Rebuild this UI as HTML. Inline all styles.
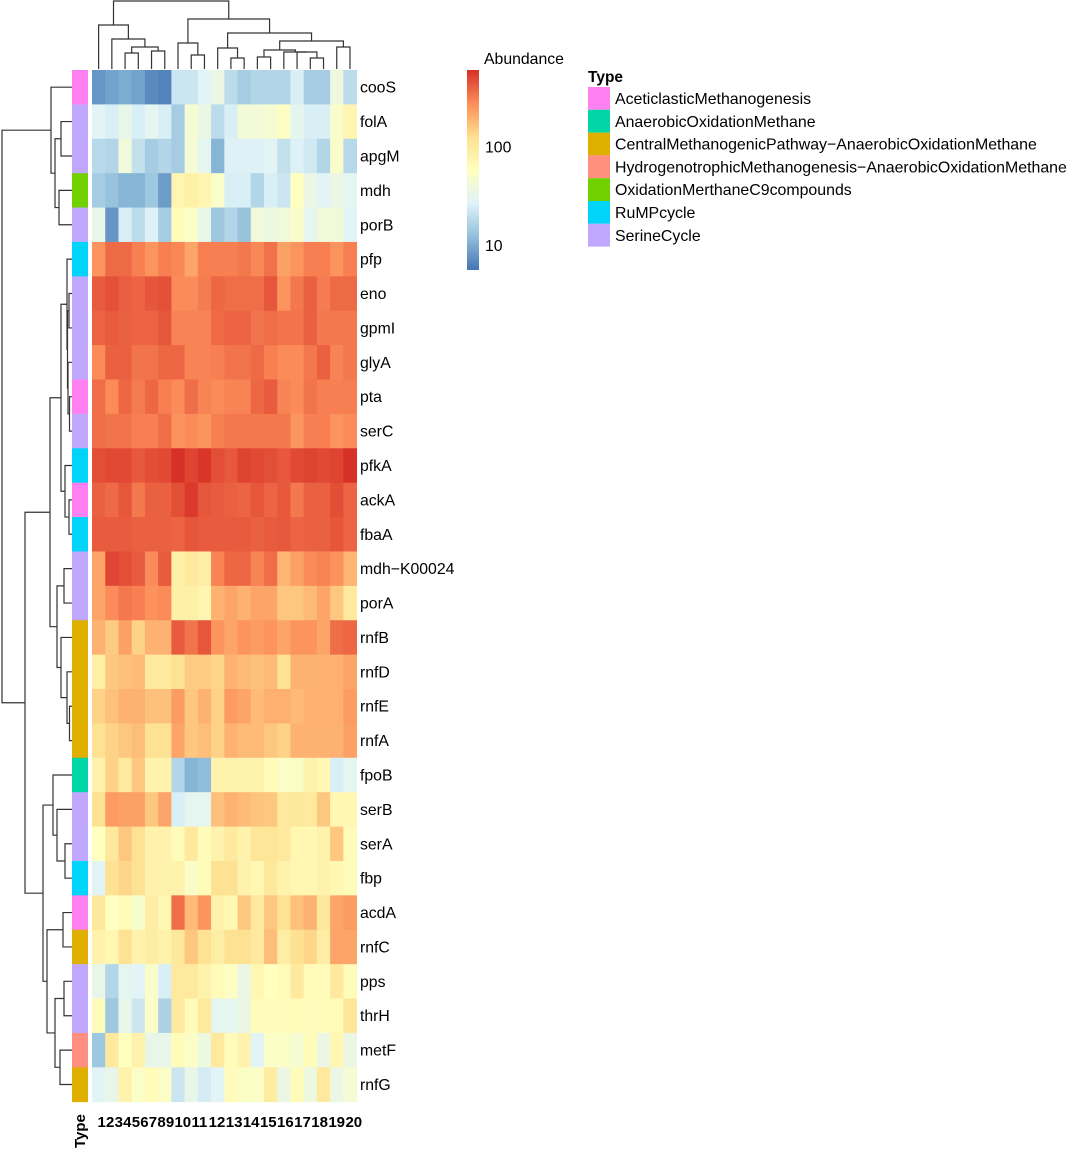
<!DOCTYPE html>
<html><head><meta charset="utf-8">
<style>
html,body{margin:0;padding:0;background:#fff;}
svg{display:block;font-family:"Liberation Sans",Arial,sans-serif;}
</style></head>
<body>
<svg id="chart" xmlns="http://www.w3.org/2000/svg" width="1080" height="1159" viewBox="0 0 1080 1159">
<defs>
<linearGradient id="gr" x1="0" y1="1" x2="0" y2="0">
<stop offset="0" stop-color="#4575B4"/><stop offset="0.1667" stop-color="#91BFDB"/><stop offset="0.3333" stop-color="#E0F3F8"/><stop offset="0.5" stop-color="#FFFFBF"/><stop offset="0.6667" stop-color="#FEE090"/><stop offset="0.8333" stop-color="#FC8D59"/><stop offset="1" stop-color="#D73027"/>
</linearGradient>
</defs>
<g id="cells"></g>
<g id="annot"></g>
<g id="labels"></g>
<g id="dendro" stroke="#333" stroke-width="1.2" fill="none"></g>
<g id="alegend">
<rect x="467" y="70" width="12" height="200" fill="url(#gr)"/>
<text x="484" y="64" font-size="15.8">Abundance</text>
</g>
<g id="tlegend">
<text x="588" y="82" font-size="15.5" font-weight="bold">Type</text>
</g>
<text font-size="15" font-weight="bold" transform="translate(85,1148) rotate(-90)">Type</text>
</svg>
<script>
var genes = ["cooS","folA","apgM","mdh","porB","pfp","eno","gpmI","glyA","pta","serC","pfkA","ackA","fbaA","mdh\u2212K00024","porA","rnfB","rnfD","rnfE","rnfA","fpoB","serB","serA","fbp","acdA","rnfC","pps","thrH","metF","rnfG"];
var samples = ["1","2","3","4","5","6","7","8","9","10","11","12","13","14","15","16","17","18","19","20"];
var geneTypes = [0,6,6,4,6,5,6,6,6,0,6,5,0,5,6,6,2,2,2,2,1,6,6,5,0,2,6,6,3,2];
var typeNames = ["AceticlasticMethanogenesis","AnaerobicOxidationMethane","CentralMethanogenicPathway\u2212AnaerobicOxidationMethane","HydrogenotrophicMethanogenesis\u2212AnaerobicOxidationMethane","OxidationMerthaneC9compounds","RuMPcycle","SerineCycle"];
var typeColors = ["#FF80F0","#00D6A8","#E0B000","#FF9080","#70D000","#00D4F8","#C0A8FF"];
var legendTicks = [10,100];
var abundance = [
[8,9,10,9,7,6.5,22,22,28,35,19,15,17,17,17,25,15,15,38,19],
[28,25,33,25,30,25,15,45,35,19,25,42,42,45,55,30,25,25,50,75],
[18,17,40,20,15,17,15,45,30,11,26,26,26,28,20,26,23,17,50,18],
[15,13,11,11,14,8.5,75,85,75,50,25,25,17,25,22,58,35,28,35,30],
[33,8,25,19,26,15,62,52,33,14,17,13,40,37,40,50,30,40,40,28],
[260,370,370,310,260,310,290,220,310,310,310,330,290,350,230,260,310,310,260,310],
[420,460,410,390,440,460,280,280,320,380,360,360,360,440,260,330,400,320,370,370],
[390,420,400,390,390,440,300,300,300,370,390,390,340,360,340,340,400,330,330,330],
[280,400,400,340,340,380,380,300,300,310,340,340,370,310,280,280,330,400,300,330],
[360,280,380,320,380,310,280,360,300,280,300,300,380,420,300,280,340,310,310,310],
[360,340,340,310,310,360,265,280,260,310,330,330,330,330,330,260,310,310,260,280],
[470,490,490,430,470,490,600,510,580,470,430,520,490,470,430,490,510,490,510,600],
[400,370,440,330,400,400,470,560,440,420,400,390,440,390,430,330,400,400,470,390],
[420,420,420,400,400,400,390,440,420,420,420,420,400,420,430,390,400,400,440,390],
[220,500,470,420,280,420,85,100,90,300,380,380,300,360,190,230,280,300,265,190],
[220,280,330,310,265,280,85,85,75,195,220,195,220,220,160,160,180,220,160,100],
[195,155,230,145,195,195,420,340,440,260,220,260,240,260,220,260,260,220,360,380],
[85,160,170,180,100,100,120,155,155,140,195,180,170,180,120,195,195,195,200,220],
[145,170,195,195,170,170,240,160,195,145,240,220,180,200,200,180,200,200,200,240],
[120,145,160,175,120,120,220,160,175,145,195,180,180,160,145,195,195,195,195,230],
[80,145,100,160,80,80,17,11,12,80,80,80,80,65,52,52,80,72,25,30],
[120,240,230,230,160,220,25,30,30,170,195,180,165,160,100,105,100,160,72,72],
[58,105,160,120,80,80,65,100,65,80,100,80,110,110,100,72,72,80,160,65],
[28,120,140,120,80,80,80,52,65,120,120,80,72,105,80,72,72,80,72,65],
[105,58,65,48,90,72,360,180,260,80,72,160,100,160,120,170,195,105,220,240],
[80,72,120,80,90,80,105,160,120,90,120,120,100,175,90,120,140,90,220,220],
[33,17,30,28,50,25,100,100,80,65,55,35,72,58,65,100,65,65,100,65],
[62,14,33,22,52,16,100,65,100,30,30,35,62,62,62,65,62,62,65,110],
[14,100,58,80,33,33,65,52,37,100,62,80,28,52,52,45,65,35,72,35],
[28,33,80,52,65,52,22,33,24,28,62,52,52,95,35,65,37,100,35,45]
];
var rowTree = [[0,[[1,2,61],[3,4,59],55],51],
 [[[[5,[[6,7,69],[8,[9,10,69.5],68],67.5],67],[11,[12,13,69],65],61],
   [[14,15,64],[16,[17,[18,19,69.5],67],61],57],50],
  [[20,[21,[22,23,65],57],53],[[24,25,63],[[26,27,64],[28,29,60],55],47],43],25],2];
var colTree = [[0,[1,[[2,3,53],[4,5,51],47],39],25],
 [[6,[7,8,55],43],[[9,[10,11,58],48],[[[12,13,57],[14,[15,[16,17,58],52],52],50],[18,19,47],41],33],19],1];

var NS = "http://www.w3.org/2000/svg";
function mk(tag, attrs, parent) {
  var e = document.createElementNS(NS, tag);
  for (var k in attrs) { e.setAttribute(k, String(attrs[k])); }
  parent.appendChild(e);
  return e;
}
var X0 = 92, X1 = 356.6, Y0 = 70, Y1 = 1101.7;
var cw = (X1 - X0) / samples.length, rh = (Y1 - Y0) / genes.length;
function xCol(i) { return X0 + cw * i; }
function yRow(i) { return Y0 + rh * i; }
var pal = [[69,117,180],[145,191,219],[224,243,248],[255,255,191],[254,224,144],[252,141,89],[215,48,39]];
var LMIN = 0.75, LMAX = 2.78;
function tOf(v) { var t = (Math.log(v) / Math.LN10 - LMIN) / (LMAX - LMIN); return Math.max(0, Math.min(1, t)); }
function color(v) {
  var t = tOf(v) * 6; var i = Math.min(5, Math.floor(t)); var f = t - i;
  var a = pal[i], b = pal[i + 1];
  return "rgb(" + Math.round(a[0] + (b[0] - a[0]) * f) + "," + Math.round(a[1] + (b[1] - a[1]) * f) + "," + Math.round(a[2] + (b[2] - a[2]) * f) + ")";
}

function drawCells() {
  var g = document.getElementById("cells");
  for (var r = 0; r < abundance.length; r++) {
    for (var c = 0; c < abundance[r].length; c++) {
      var rc = mk("rect", {x: xCol(c), y: yRow(r), width: cw + 0.4, height: rh + 0.4, fill: color(abundance[r][c])}, g);
      
      
    }
  }
}
function drawLabels() {
  var an = document.getElementById("annot");
  var lb = document.getElementById("labels");
  for (var r = 0; r < genes.length; r++) {
    var a = mk("rect", {x: 72, y: yRow(r), width: 16, height: rh + 0.4, fill: typeColors[geneTypes[r]]}, an);
    
    
    var t = mk("text", {x: 360, y: yRow(r) + rh / 2 + 5.5, "font-size": 15.8, fill: "#000"}, lb);
    t.textContent = genes[r];
    
    
  }
  var cx = 97.5, chw = 8.55;
  for (var c = 0; c < samples.length; c++) {
    var s = mk("text", {x: cx, y: 1127, "font-size": 15, "font-weight": "bold", fill: "#000"}, lb);
    s.textContent = samples[c];
    
    
    cx += samples[c].length * chw;
  }
}
function drawRow(n, g) {
  if (typeof n === "number") { return [yRow(n) + rh / 2, 72]; }
  var a = drawRow(n[0], g), b = drawRow(n[1], g), h = n[2];
  var p = mk("path", {d: "M" + a[1] + "," + a[0] + "H" + h + "V" + b[0] + "H" + b[1]}, g);
  
  
  return [(a[0] + b[0]) / 2, h];
}
function drawCol(n, g) {
  if (typeof n === "number") { return [xCol(n) + cw / 2, 69]; }
  var a = drawCol(n[0], g), b = drawCol(n[1], g), h = n[2];
  var p = mk("path", {d: "M" + a[0] + "," + a[1] + "V" + h + "H" + b[0] + "V" + b[1]}, g);
  
  
  return [(a[0] + b[0]) / 2, h];
}
function drawLegends() {
  var lg = document.getElementById("alegend");
  for (var i = 0; i < legendTicks.length; i++) {
    var y = 270 - 200 * tOf(legendTicks[i]);
    var t = mk("text", {x: 485, y: y + 5.5, "font-size": 15.8}, lg);
    t.textContent = String(legendTicks[i]);
    
    
  }
  var tl = document.getElementById("tlegend");
  for (var j = 0; j < typeNames.length; j++) {
    var yy = 87 + j * 22.8;
    var sw = mk("rect", {x: 588, y: yy, width: 22, height: 22.8, fill: typeColors[j]}, tl);
    
    
    var tx = mk("text", {x: 615, y: yy + 17, "font-size": 15.9}, tl);
    tx.textContent = typeNames[j];
    
    
  }
}
try { drawCells(); } catch (e) {}
try { drawLabels(); } catch (e) {}
try { var dg = document.getElementById("dendro"); drawRow(rowTree, dg); drawCol(colTree, dg); } catch (e) {}
try { drawLegends(); } catch (e) {}
</script>
</body></html>
